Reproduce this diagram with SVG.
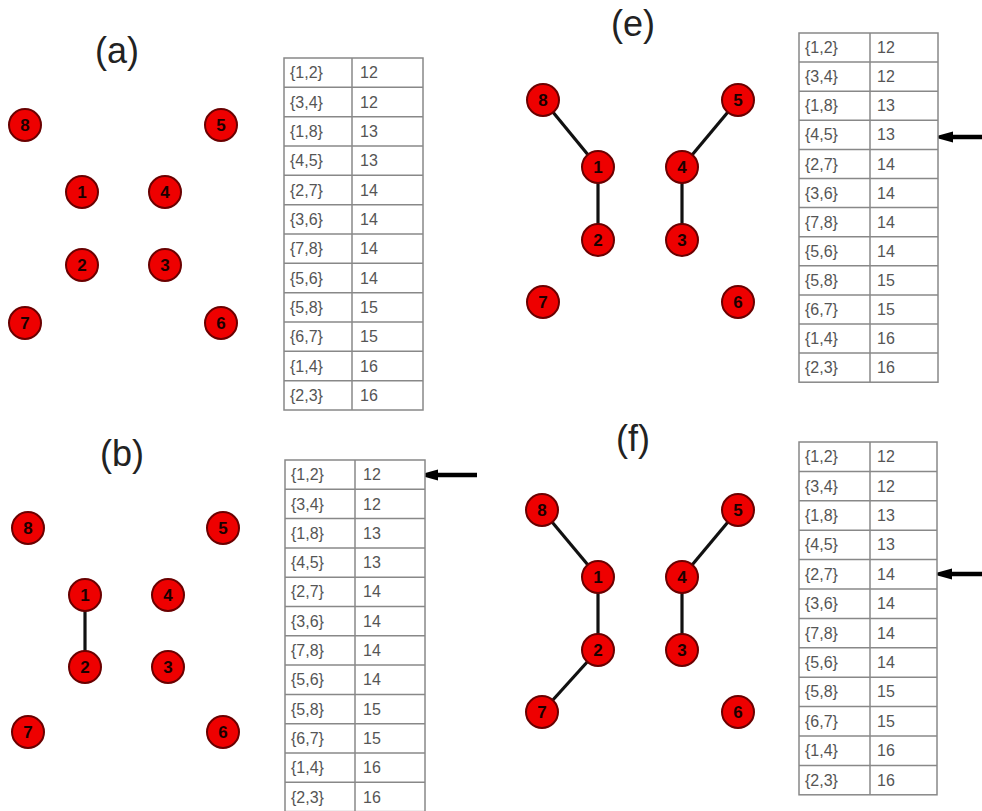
<svg xmlns="http://www.w3.org/2000/svg" width="982" height="811" viewBox="0 0 982 811">
<style>
.bg{fill:#fff}
.lbl{font-family:"Liberation Sans",Arial,sans-serif;font-size:36px;fill:#222;text-anchor:middle}
.nd circle{fill:#ee0000;stroke:#6a0000;stroke-width:2}
.nd text{font-family:"Liberation Sans",Arial,sans-serif;font-size:17px;font-weight:bold;fill:#1a0000;text-anchor:middle}
.edge{stroke:#111;stroke-width:3.2;fill:none}
.tb rect{fill:#fff;stroke:#888;stroke-width:1.5}
.tb line{stroke:#888;stroke-width:1.5}
.tb text{font-family:"Liberation Sans",Arial,sans-serif;font-size:16px;fill:#555}
.arr{stroke:#000;stroke-width:4.5;fill:none}
</style>
<defs>
<marker id="ah" markerUnits="userSpaceOnUse" markerWidth="22" markerHeight="12" refX="8" refY="5.5" orient="auto">
<path d="M0,0 L20,5.5 L0,11 z" fill="#000"/>
</marker>
</defs>
<rect class="bg" x="0" y="0" width="982" height="811"/>

<!-- Labels -->
<text class="lbl" x="117" y="63">(a)</text>
<text class="lbl" x="122" y="466">(b)</text>
<text class="lbl" x="633" y="36">(e)</text>
<text class="lbl" x="633" y="451">(f)</text>

<!-- Connectors -->
<g id="connectors">
<line class="edge" x1="85" y1="595" x2="85" y2="667"/>
<line class="edge" x1="543" y1="100" x2="598" y2="167"/>
<line class="edge" x1="598" y1="167" x2="598" y2="240"/>
<line class="edge" x1="738" y1="100" x2="682" y2="167"/>
<line class="edge" x1="682" y1="167" x2="682" y2="240"/>
<line class="edge" x1="542" y1="510" x2="598" y2="577"/>
<line class="edge" x1="598" y1="577" x2="598" y2="650"/>
<line class="edge" x1="598" y1="650" x2="542" y2="712"/>
<line class="edge" x1="738" y1="510" x2="682" y2="577"/>
<line class="edge" x1="682" y1="577" x2="682" y2="650"/>
<line class="arr" x1="477" y1="475" x2="430" y2="475" marker-end="url(#ah)"/>
<line class="arr" x1="982" y1="137" x2="945" y2="137" marker-end="url(#ah)"/>
<line class="arr" x1="982" y1="574" x2="944" y2="574" marker-end="url(#ah)"/>
</g>

<!-- Panel (a) nodes -->
<g id="a-n8" class="nd"><circle cx="25" cy="125" r="16"/><text x="25" y="131">8</text></g>
<g id="a-n5" class="nd"><circle cx="221" cy="125" r="16"/><text x="221" y="131">5</text></g>
<g id="a-n1" class="nd"><circle cx="82" cy="192" r="16"/><text x="82" y="198">1</text></g>
<g id="a-n4" class="nd"><circle cx="165" cy="192" r="16"/><text x="165" y="198">4</text></g>
<g id="a-n2" class="nd"><circle cx="82" cy="265" r="16"/><text x="82" y="271">2</text></g>
<g id="a-n3" class="nd"><circle cx="165" cy="265" r="16"/><text x="165" y="271">3</text></g>
<g id="a-n7" class="nd"><circle cx="25" cy="323" r="16"/><text x="25" y="329">7</text></g>
<g id="a-n6" class="nd"><circle cx="221" cy="323" r="16"/><text x="221" y="329">6</text></g>

<!-- Panel (b) nodes -->
<g id="b-n8" class="nd"><circle cx="28" cy="528" r="16"/><text x="28" y="534">8</text></g>
<g id="b-n5" class="nd"><circle cx="223" cy="528" r="16"/><text x="223" y="534">5</text></g>
<g id="b-n1" class="nd"><circle cx="85" cy="595" r="16"/><text x="85" y="601">1</text></g>
<g id="b-n4" class="nd"><circle cx="168" cy="595" r="16"/><text x="168" y="601">4</text></g>
<g id="b-n2" class="nd"><circle cx="85" cy="667" r="16"/><text x="85" y="673">2</text></g>
<g id="b-n3" class="nd"><circle cx="168" cy="667" r="16"/><text x="168" y="673">3</text></g>
<g id="b-n7" class="nd"><circle cx="28" cy="732" r="16"/><text x="28" y="738">7</text></g>
<g id="b-n6" class="nd"><circle cx="223" cy="732" r="16"/><text x="223" y="738">6</text></g>

<!-- Panel (e) nodes -->
<g id="e-n8" class="nd"><circle cx="543" cy="100" r="16"/><text x="543" y="106">8</text></g>
<g id="e-n5" class="nd"><circle cx="738" cy="100" r="16"/><text x="738" y="106">5</text></g>
<g id="e-n1" class="nd"><circle cx="598" cy="167" r="16"/><text x="598" y="173">1</text></g>
<g id="e-n4" class="nd"><circle cx="682" cy="167" r="16"/><text x="682" y="173">4</text></g>
<g id="e-n2" class="nd"><circle cx="598" cy="240" r="16"/><text x="598" y="246">2</text></g>
<g id="e-n3" class="nd"><circle cx="682" cy="240" r="16"/><text x="682" y="246">3</text></g>
<g id="e-n7" class="nd"><circle cx="543" cy="302" r="16"/><text x="543" y="308">7</text></g>
<g id="e-n6" class="nd"><circle cx="738" cy="302" r="16"/><text x="738" y="308">6</text></g>

<!-- Panel (f) nodes -->
<g id="f-n8" class="nd"><circle cx="542" cy="510" r="16"/><text x="542" y="516">8</text></g>
<g id="f-n5" class="nd"><circle cx="738" cy="510" r="16"/><text x="738" y="516">5</text></g>
<g id="f-n1" class="nd"><circle cx="598" cy="577" r="16"/><text x="598" y="583">1</text></g>
<g id="f-n4" class="nd"><circle cx="682" cy="577" r="16"/><text x="682" y="583">4</text></g>
<g id="f-n2" class="nd"><circle cx="598" cy="650" r="16"/><text x="598" y="656">2</text></g>
<g id="f-n3" class="nd"><circle cx="682" cy="650" r="16"/><text x="682" y="656">3</text></g>
<g id="f-n7" class="nd"><circle cx="542" cy="712" r="16"/><text x="542" y="718">7</text></g>
<g id="f-n6" class="nd"><circle cx="738" cy="712" r="16"/><text x="738" y="718">6</text></g>

<!-- Table (a) -->
<g id="table-a" class="tb">
<rect x="284" y="58" width="139" height="352"/>
<line x1="352" y1="58" x2="352" y2="410"/>
<line x1="284" y1="87.3" x2="423" y2="87.3"/><line x1="284" y1="116.7" x2="423" y2="116.7"/>
<line x1="284" y1="146" x2="423" y2="146"/><line x1="284" y1="175.3" x2="423" y2="175.3"/>
<line x1="284" y1="204.7" x2="423" y2="204.7"/><line x1="284" y1="234" x2="423" y2="234"/>
<line x1="284" y1="263.3" x2="423" y2="263.3"/><line x1="284" y1="292.7" x2="423" y2="292.7"/>
<line x1="284" y1="322" x2="423" y2="322"/><line x1="284" y1="351.3" x2="423" y2="351.3"/>
<line x1="284" y1="380.7" x2="423" y2="380.7"/>
<text x="290" y="78.2">{1,2}</text><text x="360" y="78.2">12</text>
<text x="290" y="107.5">{3,4}</text><text x="360" y="107.5">12</text>
<text x="290" y="136.8">{1,8}</text><text x="360" y="136.8">13</text>
<text x="290" y="166.2">{4,5}</text><text x="360" y="166.2">13</text>
<text x="290" y="195.5">{2,7}</text><text x="360" y="195.5">14</text>
<text x="290" y="224.8">{3,6}</text><text x="360" y="224.8">14</text>
<text x="290" y="254.2">{7,8}</text><text x="360" y="254.2">14</text>
<text x="290" y="283.5">{5,6}</text><text x="360" y="283.5">14</text>
<text x="290" y="312.8">{5,8}</text><text x="360" y="312.8">15</text>
<text x="290" y="342.2">{6,7}</text><text x="360" y="342.2">15</text>
<text x="290" y="371.5">{1,4}</text><text x="360" y="371.5">16</text>
<text x="290" y="400.8">{2,3}</text><text x="360" y="400.8">16</text>
</g>

<!-- Table (b) -->
<g id="table-b" class="tb">
<rect x="285" y="460" width="140" height="351.6"/>
<line x1="355" y1="460" x2="355" y2="811"/>
<line x1="285" y1="489.3" x2="425" y2="489.3"/><line x1="285" y1="518.6" x2="425" y2="518.6"/>
<line x1="285" y1="547.9" x2="425" y2="547.9"/><line x1="285" y1="577.2" x2="425" y2="577.2"/>
<line x1="285" y1="606.5" x2="425" y2="606.5"/><line x1="285" y1="635.8" x2="425" y2="635.8"/>
<line x1="285" y1="665.1" x2="425" y2="665.1"/><line x1="285" y1="694.4" x2="425" y2="694.4"/>
<line x1="285" y1="723.7" x2="425" y2="723.7"/><line x1="285" y1="753" x2="425" y2="753"/>
<line x1="285" y1="782.3" x2="425" y2="782.3"/>
<text x="291" y="480.2">{1,2}</text><text x="363" y="480.2">12</text>
<text x="291" y="509.5">{3,4}</text><text x="363" y="509.5">12</text>
<text x="291" y="538.8">{1,8}</text><text x="363" y="538.8">13</text>
<text x="291" y="568.1">{4,5}</text><text x="363" y="568.1">13</text>
<text x="291" y="597.4">{2,7}</text><text x="363" y="597.4">14</text>
<text x="291" y="626.7">{3,6}</text><text x="363" y="626.7">14</text>
<text x="291" y="656">{7,8}</text><text x="363" y="656">14</text>
<text x="291" y="685.3">{5,6}</text><text x="363" y="685.3">14</text>
<text x="291" y="714.6">{5,8}</text><text x="363" y="714.6">15</text>
<text x="291" y="743.9">{6,7}</text><text x="363" y="743.9">15</text>
<text x="291" y="773.2">{1,4}</text><text x="363" y="773.2">16</text>
<text x="291" y="802.5">{2,3}</text><text x="363" y="802.5">16</text>
</g>

<!-- Table (e) -->
<g id="table-e" class="tb">
<rect x="799" y="33" width="139" height="349.2"/>
<line x1="870" y1="33" x2="870" y2="382.2"/>
<line x1="799" y1="62.1" x2="938" y2="62.1"/><line x1="799" y1="91.2" x2="938" y2="91.2"/>
<line x1="799" y1="120.3" x2="938" y2="120.3"/><line x1="799" y1="149.4" x2="938" y2="149.4"/>
<line x1="799" y1="178.5" x2="938" y2="178.5"/><line x1="799" y1="207.6" x2="938" y2="207.6"/>
<line x1="799" y1="236.7" x2="938" y2="236.7"/><line x1="799" y1="265.8" x2="938" y2="265.8"/>
<line x1="799" y1="294.9" x2="938" y2="294.9"/><line x1="799" y1="324" x2="938" y2="324"/>
<line x1="799" y1="353.1" x2="938" y2="353.1"/>
<text x="805" y="53.1">{1,2}</text><text x="877" y="53.1">12</text>
<text x="805" y="82.2">{3,4}</text><text x="877" y="82.2">12</text>
<text x="805" y="111.3">{1,8}</text><text x="877" y="111.3">13</text>
<text x="805" y="140.4">{4,5}</text><text x="877" y="140.4">13</text>
<text x="805" y="169.5">{2,7}</text><text x="877" y="169.5">14</text>
<text x="805" y="198.6">{3,6}</text><text x="877" y="198.6">14</text>
<text x="805" y="227.7">{7,8}</text><text x="877" y="227.7">14</text>
<text x="805" y="256.8">{5,6}</text><text x="877" y="256.8">14</text>
<text x="805" y="285.9">{5,8}</text><text x="877" y="285.9">15</text>
<text x="805" y="315">{6,7}</text><text x="877" y="315">15</text>
<text x="805" y="344.1">{1,4}</text><text x="877" y="344.1">16</text>
<text x="805" y="373.2">{2,3}</text><text x="877" y="373.2">16</text>
</g>

<!-- Table (f) -->
<g id="table-f" class="tb">
<rect x="799" y="442" width="138" height="352.8"/>
<line x1="870" y1="442" x2="870" y2="794.8"/>
<line x1="799" y1="471.4" x2="937" y2="471.4"/><line x1="799" y1="500.8" x2="937" y2="500.8"/>
<line x1="799" y1="530.2" x2="937" y2="530.2"/><line x1="799" y1="559.6" x2="937" y2="559.6"/>
<line x1="799" y1="589" x2="937" y2="589"/><line x1="799" y1="618.4" x2="937" y2="618.4"/>
<line x1="799" y1="647.8" x2="937" y2="647.8"/><line x1="799" y1="677.2" x2="937" y2="677.2"/>
<line x1="799" y1="706.6" x2="937" y2="706.6"/><line x1="799" y1="736" x2="937" y2="736"/>
<line x1="799" y1="765.4" x2="937" y2="765.4"/>
<text x="805" y="462.2">{1,2}</text><text x="877" y="462.2">12</text>
<text x="805" y="491.6">{3,4}</text><text x="877" y="491.6">12</text>
<text x="805" y="521">{1,8}</text><text x="877" y="521">13</text>
<text x="805" y="550.4">{4,5}</text><text x="877" y="550.4">13</text>
<text x="805" y="579.8">{2,7}</text><text x="877" y="579.8">14</text>
<text x="805" y="609.2">{3,6}</text><text x="877" y="609.2">14</text>
<text x="805" y="638.6">{7,8}</text><text x="877" y="638.6">14</text>
<text x="805" y="668">{5,6}</text><text x="877" y="668">14</text>
<text x="805" y="697.4">{5,8}</text><text x="877" y="697.4">15</text>
<text x="805" y="726.8">{6,7}</text><text x="877" y="726.8">15</text>
<text x="805" y="756.2">{1,4}</text><text x="877" y="756.2">16</text>
<text x="805" y="785.6">{2,3}</text><text x="877" y="785.6">16</text>
</g>
</svg>
